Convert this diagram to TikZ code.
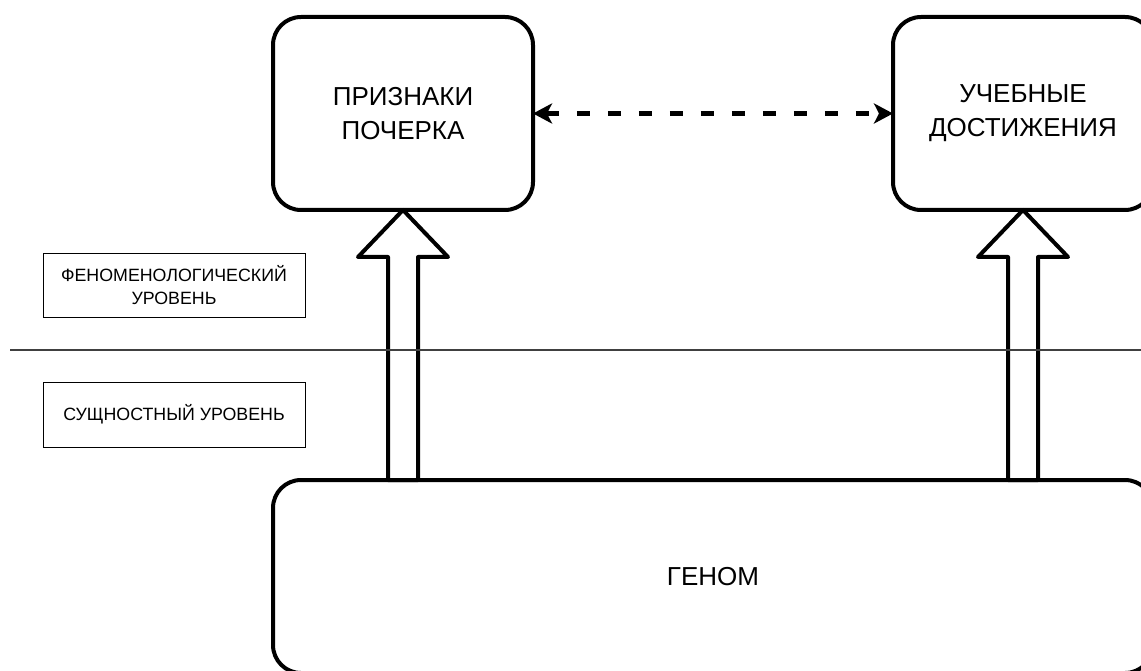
\documentclass[tikz,border=0pt]{standalone}
\usepackage{fontspec}
\setmainfont{Liberation Sans}
\usetikzlibrary{arrows.meta,calc}
\tikzset{
  bigbox/.style={draw=black, line width=4pt, rounded corners=28pt, fill=white,
    inner sep=0pt, outer sep=0pt, align=center,
    font=\fontsize{26}{34}\selectfont},
  levelbox/.style={draw=black, line width=0.9pt, inner sep=0pt, outer sep=0pt,
    align=center, minimum width=262pt, minimum height=64pt,
    font=\fontsize{17.8}{23.5}\selectfont},
  dasharrow/.style={line width=4.5pt, dash pattern=on 13pt off 18pt,
    {Stealth[length=19pt,width=20pt,inset=5pt]}-{Stealth[length=19pt,width=20pt,inset=5pt]}},
  hollowarrow/.style={draw=black, line width=4pt, line join=round},
  divider/.style={draw=black!75, line width=1.2pt}
}
\begin{document}
\begin{tikzpicture}[x=1pt,y=-1pt]
\useasboundingbox (0,0) rectangle (1141,671);
\clip (0,0) rectangle (1141,671);
\fill[white] (0,0) rectangle (1141,671);

\node[bigbox, minimum width=260pt, minimum height=193pt] (p) at (403,113.5) {ПРИЗНАКИ\\ПОЧЕРКА};
\node[bigbox, minimum width=260pt, minimum height=193pt] (u) at (1023,113.5) {УЧЕБНЫЕ\\ДОСТИЖЕНИЯ};
\node[bigbox, minimum width=880pt, minimum height=193pt] (g) at (713,576.5) {ГЕНОМ};

\node[levelbox] (f) at (174,285) {ФЕНОМЕНОЛОГИЧЕСКИЙ\\УРОВЕНЬ};
\node[levelbox, minimum height=65pt] (s) at (174,414.5) {СУЩНОСТНЫЙ УРОВЕНЬ};

% hollow arrows from genome to boxes
\coordinate (pl) at ($(p.south)+(-15,47)$);
\coordinate (pr) at ($(p.south)+(15,47)$);
\draw[hollowarrow] (p.south) -- ++(45,47) -- (pr) -- (pr |- g.north)
  -- (pl |- g.north) -- (pl) -- ++(-30,0) -- cycle;
\coordinate (ul) at ($(u.south)+(-15,47)$);
\coordinate (ur) at ($(u.south)+(15,47)$);
\draw[hollowarrow] (u.south) -- ++(45,47) -- (ur) -- (ur |- g.north)
  -- (ul |- g.north) -- (ul) -- ++(-30,0) -- cycle;

\draw[dasharrow] (p.east) -- (u.west);

\coordinate (hl) at (10,350);
\coordinate (hr) at (1160,350);
\draw[divider] (hl) -- (hr);
\end{tikzpicture}
\end{document}
